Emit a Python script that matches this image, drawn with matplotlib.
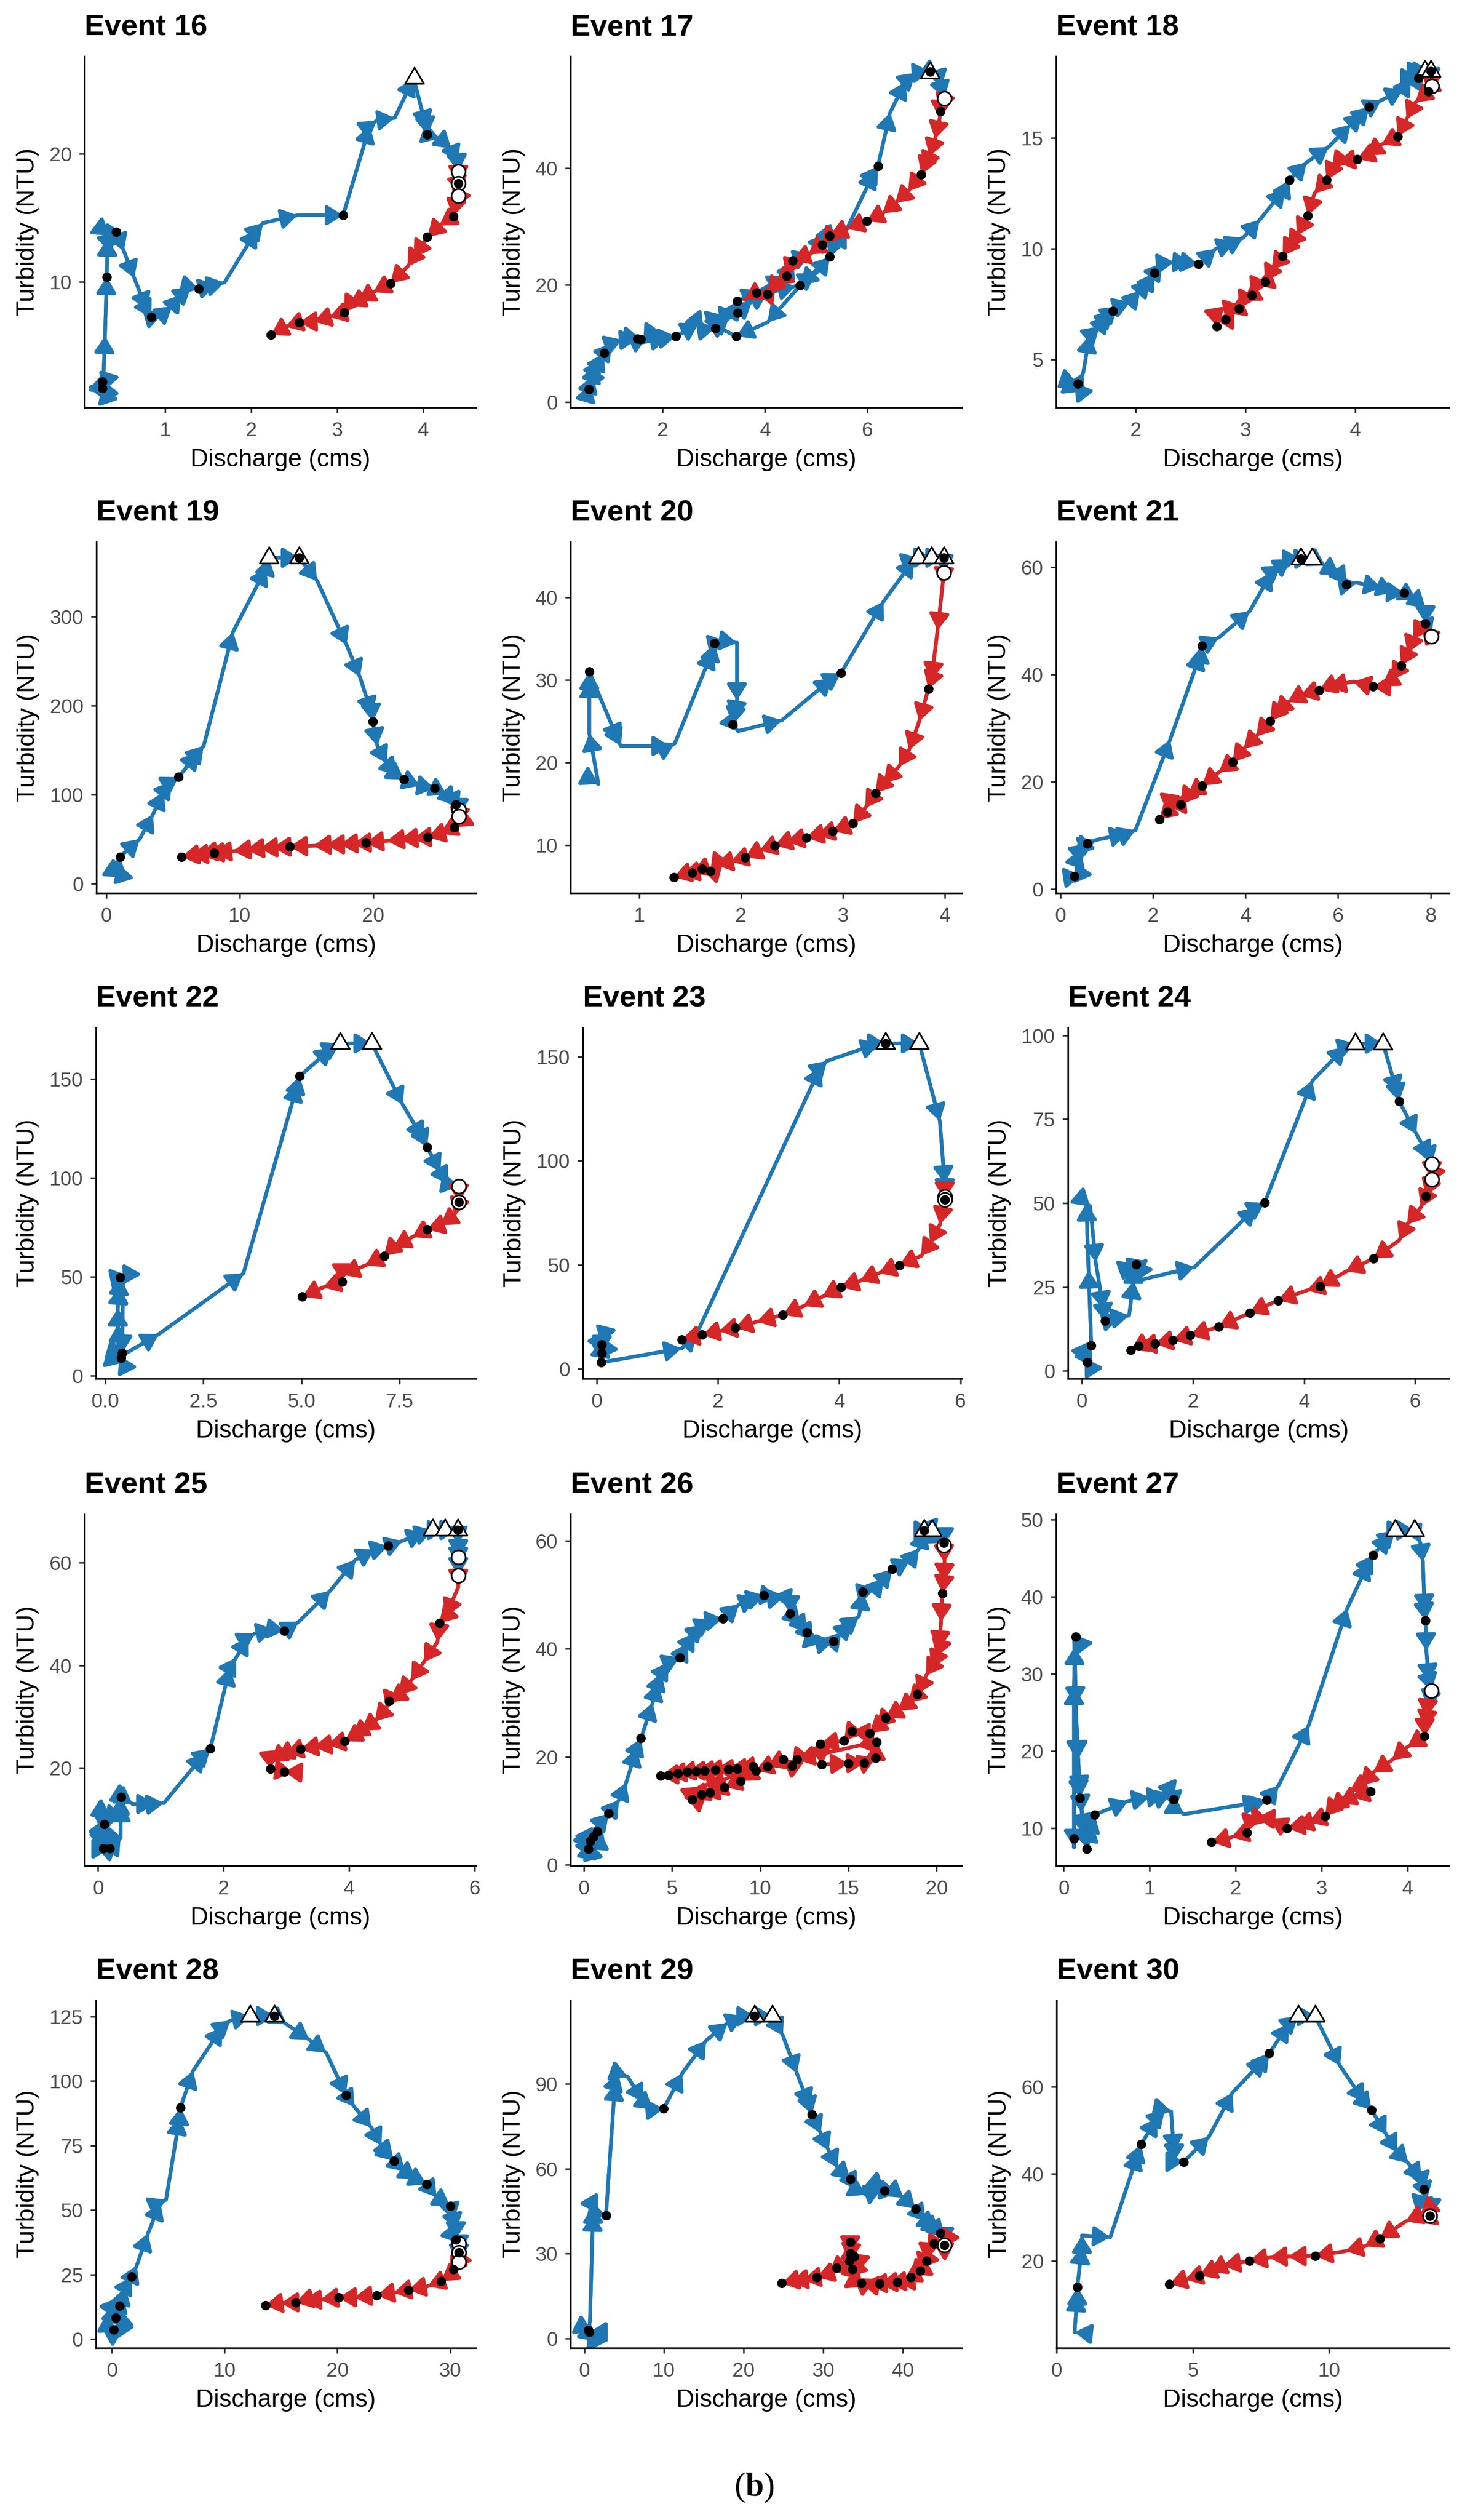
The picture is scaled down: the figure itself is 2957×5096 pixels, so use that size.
import matplotlib
matplotlib.use("Agg")
import matplotlib.pyplot as plt
from matplotlib.path import Path
from matplotlib.patches import FancyArrowPatch

# ---------------- data (Discharge cms, Turbidity NTU) ----------------
e16_rising = [(0.30,1.3),(0.27,1.9),(0.33,2.4),(0.29,1.5),(0.34,1.2),(0.28,2.3),(0.30,5.8),(0.32,10.4),
              (0.33,13.4),(0.28,14.0),(0.36,13.6),(0.30,13.0),(0.43,13.9),(0.52,12.4),(0.64,10.3),(0.79,7.8),
              (0.84,7.25),(0.97,7.5),(1.08,8.1),(1.19,9.0),(1.30,9.6),(1.39,9.46),(1.59,9.8),(1.69,9.95),
              (2.07,14.1),(2.14,14.6),(2.54,15.2),(3.07,15.2),(3.38,22.2),(3.46,22.6),(3.67,22.8),(3.89,25.9),
              (4.04,22.0),(4.05,21.5),(4.19,21.2),(4.33,20.4),(4.40,19.3),(4.41,18.6)]
e16_falling = [(4.41,18.6),(4.41,17.7),(4.44,16.9),(4.37,15.8),(4.35,15.1),(4.19,14.4),(4.05,13.5),(3.89,11.9),
               (3.82,11.2),(3.62,9.9),(3.42,9.2),(3.24,8.5),(3.13,8.1),(3.08,7.6),(2.91,7.25),(2.73,6.9),
               (2.56,6.84),(2.40,6.5),(2.23,5.86)]
e16_dots = [(0.27,2.2),(0.27,1.7),(0.32,10.4),(0.43,13.9),(0.84,7.25),(1.39,9.46),(3.07,15.2),(4.05,21.5),
            (4.41,17.7),(4.35,15.1),(4.05,13.5),(3.62,9.9),(3.08,7.6),(2.56,6.84),(2.23,5.86)]
e16_peaks = [(3.90,25.9)]
e16_qmax = [(4.41,18.6),(4.41,17.7),(4.41,16.7)]

e17_rising = [(0.62,3.5),(0.55,2.1),(0.58,3.0),(0.64,4.5),(0.72,6.3),(0.78,7.2),(0.85,8.3),(1.0,10.0),
              (1.2,10.6),(1.5,10.8),(1.57,10.7),(1.7,11.2),(1.62,10.2),(2.1,11.0),(2.26,11.2),(2.7,13.4),
              (2.8,12.3),(3.03,12.6),(3.3,14.5),(3.46,17.2),(3.9,19.0),(4.4,21.5),(4.55,24.2),(4.9,25.3),
              (5.2,28.7),(5.35,27.0),(5.27,24.8),(4.69,19.9),(4.05,13.6),(3.44,11.2),(2.85,13.8),(3.2,14.8),
              (3.46,15.2),(3.75,17.2),(4.05,18.6),(4.6,19.8),(5.0,22.0),(5.27,24.8),(5.6,29.5),(6.15,39.5),
              (6.21,40.3),(6.45,49.5),(6.75,54.8),(6.95,56.3),(7.23,56.5),(7.4,55.5),(7.45,53.8),(7.51,51.9)]
e17_falling = [(7.51,51.9),(7.43,49.7),(7.42,48.5),(7.33,45.0),(7.22,42.0),(7.1,39.8),(7.06,38.9),(6.8,36.0),
               (6.55,34.0),(6.3,32.2),(5.99,30.9),(5.6,29.6),(5.27,28.4),(5.12,26.9),(4.85,25.2),(4.54,24.2),
               (4.42,21.5),(4.2,20.0),(4.05,18.4),(3.83,18.65),(3.6,17.5)]
e17_dots = [(0.55,2.15),(0.85,8.3),(1.5,10.8),(1.57,10.7),(2.26,11.2),(3.03,12.6),(3.44,11.2),(3.46,17.2),
            (3.47,15.2),(4.69,19.9),(5.27,24.8),(6.21,40.3),(7.23,56.5),(7.43,49.7),(7.06,38.9),(5.99,30.9),
            (5.27,28.4),(5.12,26.9),(4.54,24.2),(4.42,21.5),(4.05,18.4),(3.83,18.65)]
e17_peaks = [(7.23,56.3)]
e17_qmax = [(7.51,51.9)]

e18_rising = [(1.44,3.7),(1.50,3.56),(1.44,3.95),(1.47,3.9),(1.52,4.4),(1.58,6.1),(1.67,6.5),(1.75,7.0),
              (1.79,7.2),(1.84,7.4),(1.95,7.6),(2.04,8.1),(2.13,8.6),(2.17,8.9),(2.24,9.35),(2.35,9.4),
              (2.50,9.35),(2.57,9.3),(2.73,10.0),(2.90,10.3),(2.98,10.5),(3.13,11.3),(3.36,12.7),(3.40,13.1),
              (3.56,13.9),(3.76,14.6),(3.96,15.6),(4.07,16.1),(4.13,16.4),(4.24,16.7),(4.44,17.2),(4.51,17.7),
              (4.58,17.7),(4.62,18.0),(4.64,18.0),(4.69,18.0),(4.70,17.35)]
e18_falling = [(4.70,17.35),(4.70,17.9),(4.67,17.1),(4.55,16.6),(4.47,15.85),(4.39,15.07),(4.24,14.7),
               (4.10,14.2),(4.02,14.05),(3.84,13.9),(3.79,13.6),(3.74,13.1),(3.63,12.5),(3.57,11.5),
               (3.47,10.6),(3.39,10.05),(3.34,9.67),(3.24,9.05),(3.18,8.5),(3.10,8.35),(3.06,7.9),
               (2.98,7.65),(2.94,7.3),(2.84,7.08),(2.82,6.8),(2.73,6.8),(2.74,6.5)]
e18_dots = [(1.47,3.9),(1.79,7.2),(2.17,8.9),(2.57,9.3),(3.40,13.1),(4.13,16.4),(4.58,17.7),(4.69,18.0),
            (4.67,17.1),(4.39,15.07),(4.02,14.05),(3.74,13.1),(3.57,11.5),(3.34,9.67),(3.18,8.5),(3.06,7.9),
            (2.94,7.3),(2.82,6.8),(2.74,6.5)]
e18_peaks = [(4.64,18.0),(4.69,18.0)]
e18_qmax = [(4.70,17.35)]

e19_rising = [(0.55,14),(1.2,7.3),(0.9,22),(1.02,30),(2.5,50),(3.5,78),(4.3,103),(4.9,115),(5.42,119.7),
              (6.9,148),(7.3,155),(9.5,283),(12.0,355),(12.18,366),(14.44,366),(15.8,340),(18.0,268),
              (19.0,232),(19.9,190),(19.96,182),(20.3,155),(21.0,135),(21.8,122),(22.3,117),(23.5,110),
              (24.6,107),(25.5,100),(26.2,88.7),(26.4,82.7),(26.4,75.7)]
e19_falling = [(26.4,75.7),(26.3,66),(26.06,63.4),(25.0,56),(24.08,52.1),(23.0,51),(22.0,49.5),(21.0,48),
               (19.44,45.8),(18.5,45),(17.5,44),(16.5,43.5),(15.5,42.5),(13.73,41.5),(12.5,40.5),
               (11.5,39.5),(10.5,38),(9.5,36.5),(8.06,34.5),(7.5,34),(7.0,32.5),(6.3,31.5),(5.63,29.9)]
e19_dots = [(1.02,30),(5.42,119.7),(14.44,366),(19.96,182),(22.3,117),(24.6,107),(26.2,88.7),(26.06,63.4),
            (24.08,52.1),(19.44,45.8),(13.73,41.5),(8.06,34.5),(5.63,29.9)]
e19_peaks = [(12.18,366),(14.44,366)]
e19_qmax = [(26.4,82.7),(26.4,75.7)]

e20_rising = [(0.51,18.0),(0.60,17.4),(0.51,23.5),(0.51,30.0),(0.51,31.0),(0.80,22.5),(0.82,22.0),(1.30,22.0),
              (1.35,22.3),(1.72,33.5),(1.74,34.4),(1.85,34.7),(1.96,34.5),(1.96,27.5),(1.93,25.3),(1.92,24.6),
              (1.97,23.8),(2.40,25.1),(2.90,30.2),(2.98,30.8),(3.40,39.5),(3.70,44.6),(3.75,44.8),(3.87,44.8),
              (3.99,44.8),(3.99,43.0)]
e20_falling = [(3.99,43.0),(3.98,41.5),(3.93,36.0),(3.87,30.0),(3.84,28.9),(3.75,25.0),(3.65,21.5),(3.55,19.5),
               (3.40,17.5),(3.32,16.3),(3.22,14.5),(3.10,12.6),(2.90,11.66),(2.75,11.2),(2.64,10.9),(2.45,10.4),
               (2.33,9.95),(2.18,9.3),(2.04,8.5),(1.90,8.0),(1.75,7.6),(1.70,6.84),(1.62,7.1),(1.52,6.65),
               (1.42,6.4),(1.34,6.1)]
e20_dots = [(0.51,31.0),(1.74,34.4),(1.92,24.6),(2.98,30.8),(3.99,44.8),(3.84,28.9),(3.32,16.3),(3.10,12.6),
            (2.90,11.66),(2.64,10.9),(2.33,9.95),(2.04,8.5),(1.70,6.84),(1.62,7.1),(1.52,6.65),(1.34,6.1)]
e20_peaks = [(3.74,44.8),(3.87,44.8),(3.99,44.8)]
e20_qmax = [(3.99,43.0)]

e21_rising = [(0.30,2.4),(0.45,2.6),(0.33,5.0),(0.43,7.5),(0.32,6.5),(0.58,8.5),(0.77,9.2),(1.45,10.4),
              (1.62,11.0),(2.37,27.9),(3.04,44.2),(3.06,45.4),(3.42,46.9),(4.09,51.8),(4.57,59.1),(4.77,60.3),
              (4.98,61.5),(5.19,61.6),(5.44,61.7),(5.72,60.3),(6.03,58.6),(6.18,56.8),(6.40,57.1),(6.94,56.2),
              (7.21,55.3),(7.43,55.2),(7.69,53.9),(7.89,52.4),(7.89,49.5),(8.01,47.1)]
e21_falling = [(8.01,47.1),(7.80,49.0),(7.62,46.6),(7.50,44.0),(7.36,41.7),(7.15,39.0),(6.94,37.8),(6.75,37.8),
               (6.33,38.7),(5.79,37.8),(5.59,37.1),(5.18,36.1),(4.91,34.9),(4.64,32.6),(4.53,31.4),(4.23,28.5),
               (3.96,26.2),(3.72,23.7),(3.42,21.8),(3.06,19.3),(2.74,17.4),(2.60,15.8),(2.33,15.6),(2.31,14.4),
               (2.14,13.0)]
e21_dots = [(0.30,2.4),(0.58,8.5),(3.06,45.4),(5.19,61.6),(6.18,56.8),(7.43,55.2),(7.89,49.5),(7.36,41.7),
            (6.75,37.8),(5.59,37.1),(4.53,31.4),(3.72,23.7),(3.06,19.3),(2.60,15.8),(2.31,14.4),(2.14,13.0)]
e21_peaks = [(5.19,61.6),(5.44,61.6)]
e21_qmax = [(8.01,47.1)]

e22_rising = [(0.22,8.0),(0.45,6.5),(0.36,10.0),(0.32,26.0),(0.32,34.0),(0.36,45.0),(0.38,49.7),(0.58,50.5),
              (0.45,46.0),(0.43,11.4),(0.50,11.0),(1.36,20.9),(3.52,51.7),(4.90,147.5),(4.95,151.4),(5.79,166),
              (5.98,168),(6.79,168),(7.58,137),(8.11,119.3),(8.20,115.5),(8.54,103),(8.73,96.8),(9.01,95.7)]
e22_falling = [(9.01,95.7),(9.01,87.8),(8.90,81.0),(8.54,76.0),(8.20,73.9),(7.82,70.0),(7.34,65.0),(7.10,60.4),
               (6.63,55.7),(6.03,51.0),(6.03,47.5),(5.55,44.6),(5.02,39.9)]
e22_dots = [(0.43,11.4),(0.40,9.0),(0.38,49.7),(4.95,151.4),(8.20,115.5),(9.01,87.8),(8.20,73.9),(7.10,60.4),
            (6.03,47.5),(5.02,39.9)]
e22_peaks = [(5.98,168),(6.79,168)]
e22_qmax = [(9.01,95.7),(9.01,87.8)]

e23_rising = [(0.05,12.0),(0.12,8.0),(0.05,5.0),(0.10,14.0),(0.08,11.7),(0.08,7.5),(0.07,3.0),(1.40,9.8),
              (1.65,17.0),(3.69,145),(3.80,148),(4.65,156.4),(4.76,156.4),(5.32,156.4),(5.66,119),(5.74,89),
              (5.74,82.8)]
e23_falling = [(5.74,82.8),(5.74,81.3),(5.66,69.3),(5.50,60.2),(5.35,54.2),(4.99,49.7),(4.65,45.9),(4.34,42.2),
               (4.03,39.2),(3.72,34.6),(3.41,30.1),(3.07,25.9),(2.64,22.6),(2.28,19.6),(2.02,18.1),(1.74,16.3),
               (1.40,14.0)]
e23_dots = [(0.08,11.7),(0.08,7.5),(0.07,3.0),(4.76,156.4),(5.74,81.3),(4.99,49.7),(4.03,39.2),(3.07,25.9),
            (2.28,19.6),(1.74,16.3),(1.40,14.0)]
e23_peaks = [(4.76,156.4),(5.32,156.4)]
e23_qmax = [(5.74,82.8),(5.74,81.3)]

e24_rising = [(0.06,4.0),(0.10,2.5),(0.05,3.8),(0.17,7.6),(0.12,30.0),(0.08,50.0),(0.15,49.0),(0.25,32.4),
              (0.39,18.4),(0.42,14.9),(0.68,16.0),(0.85,16.5),(0.93,26.8),(0.93,31.4),(0.98,31.7),(1.15,32.8),
              (0.98,26.8),(2.03,31.0),(3.14,48.7),(3.29,50.1),(4.15,86.5),(4.75,96.7),(4.92,97.5),(5.42,97.5),
              (5.68,82.7),(5.71,80.4),(6.02,70.6),(6.27,63.2),(6.30,61.6)]
e24_falling = [(6.30,61.6),(6.30,57.1),(6.27,55.7),(6.19,52.0),(6.10,48.7),(5.85,43.6),(5.71,38.9),(5.25,33.5),
               (4.75,29.6),(4.29,25.2),(4.05,24.0),(3.53,21.0),(3.02,17.3),(2.46,13.1),(1.95,10.6),(1.64,9.2),
               (1.32,8.1),(1.02,7.4),(0.88,6.25)]
e24_dots = [(0.10,2.5),(0.17,7.6),(0.42,14.9),(0.98,31.7),(3.29,50.1),(5.71,80.4),(6.19,52.0),(5.25,33.5),
            (4.29,25.2),(3.53,21.0),(3.02,17.3),(2.46,13.1),(1.95,10.6),(1.64,9.2),(1.32,8.1),(1.02,7.4),(0.88,6.25)]
e24_peaks = [(4.92,97.5),(5.42,97.5)]
e24_qmax = [(6.30,61.6),(6.30,57.1)]

e25_rising = [(0.07,11.5),(0.20,10.5),(0.10,9.1),(0.08,7.0),(0.14,6.0),(0.07,5.0),(0.085,4.3),(0.185,4.3),
              (0.30,5.5),(0.36,6.5),(0.36,13.0),(0.37,14.4),(0.50,13.4),(0.55,13.0),(0.90,13.0),(1.05,13.2),
              (1.70,22.8),(1.79,23.8),(2.10,39.5),(2.20,41.5),(2.40,45.5),(2.50,46.2),(2.80,47.0),(2.97,46.7),
              (3.20,48.5),(3.70,54.5),(4.10,60.5),(4.40,62.5),(4.62,63.2),(4.85,64.2),(5.20,65.8),(5.33,66.3),
              (5.53,66.3),(5.73,66.3),(5.74,63.5),(5.74,61.0),(5.74,59.5),(5.74,57.5)]
e25_falling = [(5.74,57.5),(5.74,55.2),(5.54,49.5),(5.44,48.2),(5.41,44.6),(5.19,40.6),(4.99,37.0),(4.79,34.2),
               (4.64,33.0),(4.59,31.5),(4.41,29.1),(4.19,27.3),(4.04,26.0),(3.93,25.2),(3.66,24.5),(3.44,24.1),
               (3.23,23.7),(2.99,22.9),(2.84,22.0),(2.74,21.1),(2.75,19.8),(3.10,19.2),(2.97,19.3)]
e25_dots = [(0.10,9.1),(0.085,4.3),(0.185,4.3),(0.37,14.4),(1.79,23.8),(2.97,46.7),(4.62,63.2),(5.73,66.3),
            (5.44,48.2),(4.64,33.0),(3.93,25.2),(3.23,23.7),(2.75,19.8),(2.97,19.3)]
e25_peaks = [(5.33,66.3),(5.53,66.3),(5.73,66.3)]
e25_qmax = [(5.74,61.0),(5.74,57.5)]

e26_rising = [(0.26,3.5),(0.40,2.8),(0.30,4.2),(0.45,3.2),(0.27,2.9),(0.36,4.4),(0.53,5.2),(0.76,6.1),
              (1.00,8.0),(1.42,9.5),(2.00,12.0),(2.40,15.2),(3.00,21.5),(3.24,23.4),(3.90,30.0),(4.20,33.6),
              (4.40,35.5),(4.80,37.5),(5.44,38.4),(5.90,41.0),(6.30,43.0),(6.80,44.5),(7.30,45.3),(7.88,45.6),
              (8.80,48.2),(9.80,49.5),(10.22,49.9),(11.00,49.5),(11.40,49.7),(11.70,47.5),(11.70,46.5),
              (12.30,44.5),(12.66,43.0),(13.00,41.5),(13.50,41.0),(14.17,41.4),(14.60,43.0),(15.20,45.0),
              (15.60,46.0),(15.82,50.5),(16.50,51.0),(17.00,53.0),(17.48,54.7),(18.50,56.5),(19.00,58.5),
              (19.30,61.9),(19.73,61.9),(19.90,60.5),(20.20,60.0),(20.42,59.6),(20.42,59.1)]
e26_falling = [(20.42,59.1),(20.45,56.0),(20.40,52.5),(20.32,50.3),(20.25,45.0),(20.15,40.0),(20.00,38.5),
               (19.70,36.5),(19.40,35.0),(18.90,31.6),(18.40,30.0),(17.80,28.5),(17.10,27.2),(16.60,25.5),
               (16.20,24.4),(15.20,24.7),(14.75,23.0),(13.40,22.3),(13.50,18.6),(15.00,18.8),(15.90,18.9),
               (16.55,19.8),(16.60,22.7),(15.50,22.0),(12.10,19.5),(11.80,18.3),(11.30,19.5),(10.40,18.2),
               (9.75,17.4),(8.90,15.5),(7.96,14.4),(7.16,13.4),(6.68,13.0),(6.15,12.1),(5.80,12.5),(6.60,14.5),
               (8.00,15.8),(9.60,18.2),(8.70,17.8),(8.20,17.7),(7.47,17.6),(6.84,17.4),(6.36,17.3),(5.87,17.2),
               (5.33,16.9),(4.80,16.6),(4.36,16.5)]
e26_dots = [(0.27,2.9),(0.36,4.4),(0.53,5.2),(0.76,6.1),(1.42,9.5),(3.24,23.4),(5.44,38.4),(7.88,45.6),
            (10.22,49.9),(11.70,46.5),(12.66,43.0),(14.17,41.4),(15.82,50.5),(17.48,54.7),(19.30,61.9),
            (20.42,59.6),(20.32,50.3),(18.90,31.6),(17.10,27.2),(16.20,24.4),(15.20,24.7),(14.75,23.0),
            (13.40,22.3),(13.50,18.6),(15.00,18.8),(15.90,18.9),(16.55,19.8),(16.60,22.7),(12.10,19.5),
            (11.80,18.3),(11.30,19.5),(10.40,18.2),(9.75,17.4),(9.60,18.2),(8.90,15.5),(8.70,17.8),(7.96,14.4),
            (8.20,17.7),(7.16,13.4),(6.68,13.0),(6.15,12.1),(7.47,17.6),(6.84,17.4),(6.36,17.3),(5.87,17.2),
            (5.33,16.9),(4.80,16.6),(4.36,16.5)]
e26_peaks = [(19.30,61.9),(19.73,61.9)]
e26_qmax = [(20.42,59.1)]

e27_rising = [(0.14,34.8),(0.12,35.1),(0.14,26.0),(0.17,19.0),(0.19,14.5),(0.21,12.0),(0.25,9.5),(0.12,8.6),
              (0.12,7.5),(0.12,28.3),(0.13,33.5),(0.15,19.0),(0.19,13.9),(0.25,9.0),(0.27,7.3),(0.33,10.5),
              (0.36,11.7),(0.75,13.5),(1.00,14.0),(1.18,14.2),(1.25,14.5),(1.28,13.7),(1.30,12.5),(1.40,11.8),
              (2.30,13.4),(2.36,13.6),(2.50,15.5),(2.85,23.3),(3.30,38.5),(3.55,44.5),(3.60,45.4),(3.80,48.0),
              (3.86,48.6),(3.97,48.6),(4.08,48.6),(4.15,47.0),(4.18,44.5),(4.20,38.0),(4.21,36.9),(4.22,33.0),
              (4.25,29.0),(4.277,27.8),(4.23,25.6)]
e27_falling = [(4.23,25.6),(4.22,24.4),(4.20,23.0),(4.20,21.9),(4.00,20.5),(3.82,18.8),(3.60,17.2),(3.45,15.5),
               (3.57,14.7),(3.35,14.0),(3.20,13.2),(3.10,12.3),(3.04,11.5),(2.85,10.7),(2.70,10.2),(2.60,10.0),
               (2.40,11.2),(2.25,11.3),(2.15,10.2),(2.13,9.4),(1.95,8.8),(1.72,8.15)]
e27_dots = [(0.14,34.8),(0.19,13.9),(0.36,11.7),(0.12,8.6),(0.27,7.3),(1.28,13.7),(2.36,13.6),(3.60,45.4),
            (4.21,36.9),(4.20,21.9),(3.57,14.7),(3.04,11.5),(2.60,10.0),(2.13,9.4),(1.72,8.15)]
e27_peaks = [(3.86,48.6),(4.08,48.6)]
e27_qmax = [(4.277,27.8)]

e28_rising = [(0.11,10.0),(0.30,8.0),(0.80,6.0),(0.17,3.6),(0.50,2.8),(1.00,4.0),(0.33,8.3),(0.67,12.8),
              (1.00,17.0),(1.20,20.0),(1.75,24.1),(2.20,28.5),(3.20,41.0),(4.30,53.0),(4.80,54.0),(6.00,86.0),
              (6.08,89.8),(7.20,104.0),(9.80,121.0),(10.50,123.5),(12.25,125.2),(14.40,125.2),(15.50,122.0),
              (17.50,116.0),(19.00,111.0),(20.75,94.6),(21.50,90.0),(23.00,82.0),(23.90,75.0),(24.80,70.0),
              (25.00,69.1),(26.00,65.0),(27.00,62.0),(27.90,60.0),(28.80,55.0),(30.00,51.5),(30.30,46.0),
              (30.50,42.0),(30.50,38.6),(30.77,37.1),(30.77,33.5),(30.77,30.0)]
e28_falling = [(30.77,30.0),(30.30,27.1),(30.00,25.0),(29.20,22.5),(28.00,20.5),(26.30,19.1),(25.00,18.0),
               (23.50,17.0),(21.50,16.2),(20.10,16.1),(18.50,15.3),(17.00,15.0),(16.30,14.2),(15.00,14.0),
               (13.60,13.1)]
e28_dots = [(0.17,3.6),(0.33,8.3),(0.67,12.8),(1.75,24.1),(6.08,89.8),(14.40,125.2),(20.75,94.6),(25.00,69.1),
            (27.90,60.0),(30.00,51.5),(30.50,38.6),(30.77,33.5),(30.30,27.1),(29.20,22.5),(26.30,19.1),
            (23.50,17.0),(20.10,16.1),(16.30,14.2),(13.60,13.1)]
e28_peaks = [(12.25,125.2),(14.40,125.2)]
e28_qmax = [(30.77,37.1),(30.77,33.5),(30.77,30.0)]

e29_rising = [(0.50,3.0),(1.00,2.3),(0.63,2.3),(0.51,3.0),(0.70,6.0),(1.10,44.2),(1.10,47.0),(1.70,44.2),
              (2.72,43.6),(3.86,90.3),(4.26,93.7),(5.44,92.5),(7.41,83.6),(8.60,80.9),(9.97,81.2),(12.30,93.7),
              (15.30,105.3),(18.00,111.5),(20.00,113.9),(21.40,113.9),(23.60,113.9),(24.95,107.0),(26.70,93.7),
              (28.30,82.0),(28.60,79.2),(29.70,72.5),(30.70,66.4),(31.80,60.3),(33.40,56.2),(34.20,52.5),
              (35.40,50.8),(37.40,53.0),(37.70,52.3),(39.30,51.4),(40.10,49.7),(41.60,45.8),(42.90,41.4),
              (44.10,38.6),(44.70,37.3),(45.20,35.8),(45.20,33.0)]
e29_falling = [(45.20,33.0),(45.00,32.0),(43.90,33.6),(43.10,30.3),(43.00,27.5),(42.30,24.7),(42.20,23.9),
               (41.30,22.5),(41.00,21.6),(40.10,20.2),(39.30,20.0),(38.20,19.7),(37.10,19.4),(35.80,19.1),
               (34.80,19.5),(33.80,21.4),(33.70,24.5),(34.00,28.0),(33.90,29.1),(33.40,30.3),(33.40,34.1),
               (33.40,30.0),(33.30,27.5),(32.60,25.8),(31.70,25.0),(30.70,23.0),(29.20,21.6),(27.50,20.8),
               (25.90,20.2),(24.80,19.5)]
e29_dots = [(0.51,3.0),(0.63,2.3),(2.72,43.6),(9.97,81.2),(21.40,113.9),(28.60,79.2),(33.40,56.2),(37.70,52.3),
            (41.60,45.8),(44.70,37.3),(45.20,33.0),(43.90,33.6),(43.00,27.5),(42.20,23.9),(41.00,21.6),
            (39.30,20.0),(37.10,19.4),(34.80,19.5),(33.70,24.5),(33.90,29.1),(33.40,34.1),(33.40,30.0),
            (33.30,27.5),(31.70,25.0),(29.20,21.6),(24.80,19.5)]
e29_peaks = [(21.40,113.9),(23.60,113.9)]
e29_qmax = [(45.20,33.0)]

e30_rising = [(0.95,3.5),(0.66,3.7),(0.76,12.5),(0.76,14.0),(0.93,23.4),(0.93,25.9),(1.97,25.5),(3.00,45.0),
              (3.10,46.8),(3.69,52.9),(3.97,54.7),(4.20,54.4),(4.31,45.0),(4.31,42.8),(4.66,42.8),(5.59,48.6),
              (6.45,58.7),(7.66,66.6),(7.80,67.7),(8.52,74.5),(8.86,76.3),(9.48,76.3),(10.40,64.8),(11.30,56.5),
              (11.55,54.7),(12.10,49.0),(12.50,45.0),(12.90,42.5),(13.40,38.5),(13.48,36.5),(13.59,34.2),
              (13.75,34.5),(13.70,30.4)]
e30_falling = [(13.70,30.4),(13.75,32.7),(13.35,30.6),(12.80,29.1),(11.86,25.2),(11.30,23.4),(10.60,22.3),
               (9.48,21.2),(8.50,21.1),(7.80,20.8),(7.07,20.0),(6.10,19.0),(5.60,17.6),(5.24,16.7),(4.72,15.8),
               (4.14,14.7)]
e30_dots = [(0.76,14.0),(3.10,46.8),(4.66,42.8),(7.80,67.7),(11.55,54.7),(13.48,36.5),(13.70,30.4),
            (11.86,25.2),(9.48,21.2),(7.07,20.0),(5.24,16.7),(4.14,14.7)]
e30_peaks = [(8.86,76.3),(9.48,76.3)]
e30_qmax = [(13.70,30.4)]

event_names = ["Event %d" % n for n in range(16, 31)]
x_ticks = [[1,2,3,4],[2,4,6],[2,3,4],[0,10,20],[1,2,3,4],[0,2,4,6,8],[0,2.5,5,7.5],[0,2,4,6],[0,2,4,6],
           [0,2,4,6],[0,5,10,15,20],[0,1,2,3,4],[0,10,20,30],[0,10,20,30,40],[0,5,10]]
x_tick_labels = [None,None,None,None,None,None,["0.0","2.5","5.0","7.5"],None,None,None,None,None,None,None,None]
y_ticks = [[10,20],[0,20,40],[5,10,15],[0,100,200,300],[10,20,30,40],[0,20,40,60],[0,50,100,150],
           [0,50,100,150],[0,25,50,75,100],[20,40,60],[0,20,40,60],[10,20,30,40,50],[0,25,50,75,100,125],
           [0,30,60,90],[20,40,60]]

# ---------------- layout / style ----------------
W, H, DPI = 2957, 5096, 300
x_lims = [(0.062,4.617),(0.196,7.85),(1.273,4.859),(-0.74,27.7),(0.326,4.167),(-0.095,8.40),(-0.24,9.45),
          (-0.23,6.02),(-0.25,6.61),(-0.215,6.025),(-0.75,21.42),(-0.088,4.485),(-1.42,32.3),(-1.73,47.4),(0.0,14.4)]
y_lims = [(0.2,27.6),(-0.97,59.1),(2.84,18.68),(-10.6,383.8),(4.18,46.7),(-0.7,64.7),(-1.6,176),(-4.8,164),
          (-2.3,102.3),(0.98,69.4),(-0.17,64.9),(5.1,50.7),(-3.4,131.3),(-3.3,119.5),(0.07,79.9)]
lefts_px = [171,1154,2136, 195,1154,2136, 194,1179,2160, 171,1154,2136, 194,1154,2137]
rights_px = [963,1945,2931]
tops_px = [114,1096,2078,3062,4045]
bottoms_px = [824,1806,2788,3773,4748]

BLUE = "#1f77b4"
RED = "#d62728"
LW = 1.75
plt.rcParams["font.family"] = ["Liberation Sans", "DejaVu Sans"]
plt.rcParams["mathtext.fontset"] = "custom"
plt.rcParams["mathtext.bf"] = "Liberation Serif:bold"
plt.rcParams["mathtext.rm"] = "Liberation Serif"

TRI = Path([(0, 1), (-0.866, -0.5), (0.866, -0.5), (0, 1)],
           [Path.MOVETO, Path.LINETO, Path.LINETO, Path.CLOSEPOLY])

events = [
    (e16_rising, e16_falling, e16_dots, e16_peaks, e16_qmax),
    (e17_rising, e17_falling, e17_dots, e17_peaks, e17_qmax),
    (e18_rising, e18_falling, e18_dots, e18_peaks, e18_qmax),
    (e19_rising, e19_falling, e19_dots, e19_peaks, e19_qmax),
    (e20_rising, e20_falling, e20_dots, e20_peaks, e20_qmax),
    (e21_rising, e21_falling, e21_dots, e21_peaks, e21_qmax),
    (e22_rising, e22_falling, e22_dots, e22_peaks, e22_qmax),
    (e23_rising, e23_falling, e23_dots, e23_peaks, e23_qmax),
    (e24_rising, e24_falling, e24_dots, e24_peaks, e24_qmax),
    (e25_rising, e25_falling, e25_dots, e25_peaks, e25_qmax),
    (e26_rising, e26_falling, e26_dots, e26_peaks, e26_qmax),
    (e27_rising, e27_falling, e27_dots, e27_peaks, e27_qmax),
    (e28_rising, e28_falling, e28_dots, e28_peaks, e28_qmax),
    (e29_rising, e29_falling, e29_dots, e29_peaks, e29_qmax),
    (e30_rising, e30_falling, e30_dots, e30_peaks, e30_qmax),
]

fig = plt.figure(figsize=(W / DPI, H / DPI), dpi=DPI)


def draw_path(ax, pts, color, z):
    q = [p[0] for p in pts]
    t = [p[1] for p in pts]
    ax.plot(q, t, color=color, lw=LW, solid_joinstyle="round", solid_capstyle="round", zorder=z)
    for (q0, t0), (q1, t1) in zip(pts[:-1], pts[1:]):
        if (q0, t0) == (q1, t1):
            continue
        arr = FancyArrowPatch(posA=(q0, t0), posB=(q1, t1),
                              arrowstyle="-|>,head_length=0.4,head_width=0.25",
                              mutation_scale=16, color=color, lw=LW, shrinkA=0, shrinkB=0,
                              joinstyle="round", capstyle="round",
                              transform=ax.transData, zorder=z)
        ax.add_artist(arr)


for i, (rising, falling, dots, peaks, qmax) in enumerate(events):
    r, c = divmod(i, 3)
    l = lefts_px[i]
    rt = rights_px[c]
    tp, bt = tops_px[r], bottoms_px[r]
    ax = fig.add_axes([l / W, 1 - bt / H, (rt - l) / W, (bt - tp) / H])

    draw_path(ax, rising, BLUE, 2)
    draw_path(ax, falling, RED, 3)
    ax.plot([p[0] for p in peaks], [p[1] for p in peaks], linestyle="none", marker=TRI, ms=10.5,
            mfc="white", mec="black", mew=0.8, zorder=4)
    ax.plot([p[0] for p in qmax], [p[1] for p in qmax], linestyle="none", marker="o", ms=6.8,
            mfc="white", mec="black", mew=0.8, zorder=4)
    ax.plot([p[0] for p in dots], [p[1] for p in dots], linestyle="none", marker="o", ms=4.6,
            mfc="black", mec="black", mew=0, zorder=5)

    ax.set_xlim(*x_lims[i])
    ax.set_ylim(*y_lims[i])
    ax.set_xticks(x_ticks[i])
    if x_tick_labels[i] is not None:
        ax.set_xticklabels(x_tick_labels[i])
    ax.set_yticks(y_ticks[i])

    for s in ("top", "right"):
        ax.spines[s].set_visible(False)
    for s in ("left", "bottom"):
        ax.spines[s].set_linewidth(0.8)
        ax.spines[s].set_color("black")
    ax.tick_params(axis="both", which="major", direction="out", length=2.75, width=0.8,
                   color="#333333", labelcolor="#4D4D4D", labelsize=9.8)
    ax.tick_params(axis="x", pad=4.0)
    ax.tick_params(axis="y", pad=3.5)
    ax.set_xlabel("Discharge (cms)", fontsize=12, labelpad=4, color="black")
    ax.set_ylabel("Turbidity (NTU)", fontsize=12, labelpad=5, color="black")
    ax.set_title(event_names[i], loc="left", fontsize=14.5, fontweight="bold", pad=10.3)

fig.text(1525 / W, 1 - 5030 / H, r"($\mathbf{b}$)", ha="center", va="center", fontsize=16,
         family="Liberation Serif")

fig.savefig("out.png", dpi=DPI)
